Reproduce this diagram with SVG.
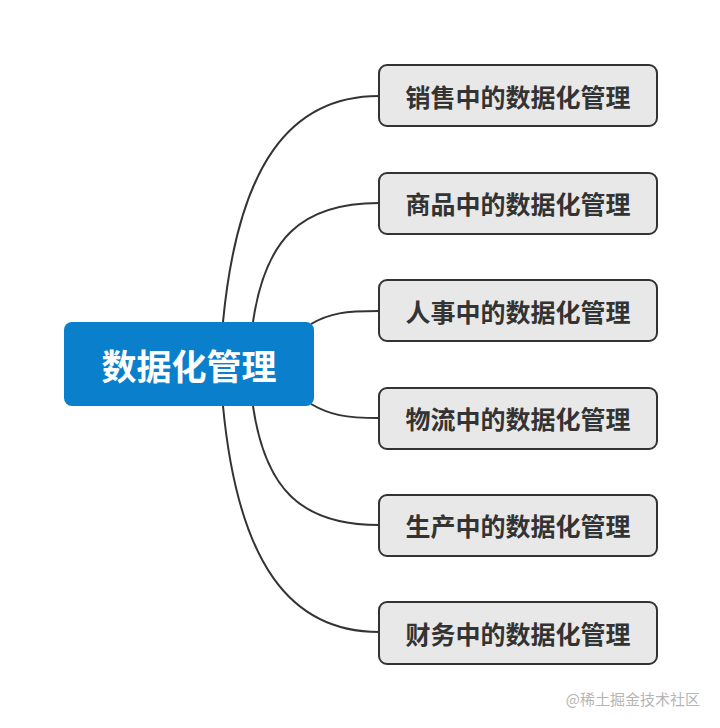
<svg xmlns="http://www.w3.org/2000/svg" width="720" height="728" viewBox="0 0 720 728">
<style>
.conn{fill:none;stroke:#333;stroke-width:2}
.child rect{fill:#e8e8e8;stroke:#333;stroke-width:2}
.child text{font-family:"Noto Sans CJK SC","Noto Sans CJK JP",sans-serif;font-weight:bold;font-size:25px;fill:#333;text-anchor:middle;dominant-baseline:central}
</style>
<rect width="720" height="728" fill="#fff"/>
<g id="connectors">
<path class="conn" d="M223,322 C238,165 290,96 379,96"/>
<path class="conn" d="M253,322 C265,240 300,203 379,203"/>
<path class="conn" d="M311,324 C330,313 345,311 379,311"/>
<path class="conn" d="M311,404 C330,415 345,418 379,418"/>
<path class="conn" d="M253,406 C265,488 300,525 379,525"/>
<path class="conn" d="M223,406 C238,563 290,632 379,632"/>
</g>
<g id="root">
<rect x="64" y="322" width="250" height="84" rx="8" fill="#0a80cc"/>
<text x="189" y="364" font-family="'Noto Sans CJK SC','Noto Sans CJK JP',sans-serif" font-weight="bold" font-size="35" fill="#fff" text-anchor="middle" dominant-baseline="central">数据化管理</text>
</g>
<g id="n1" class="child"><rect x="379" y="65" width="278" height="61" rx="8"/><text x="518" y="96">销售中的数据化管理</text></g>
<g id="n2" class="child"><rect x="379" y="173" width="278" height="61" rx="8"/><text x="518" y="203">商品中的数据化管理</text></g>
<g id="n3" class="child"><rect x="379" y="280" width="278" height="61" rx="8"/><text x="518" y="311">人事中的数据化管理</text></g>
<g id="n4" class="child"><rect x="379" y="388" width="278" height="61" rx="8"/><text x="518" y="418">物流中的数据化管理</text></g>
<g id="n5" class="child"><rect x="379" y="495" width="278" height="61" rx="8"/><text x="518" y="525">生产中的数据化管理</text></g>
<g id="n6" class="child"><rect x="379" y="602" width="278" height="62" rx="8"/><text x="518" y="633">财务中的数据化管理</text></g>
<text x="700" y="698" font-family="'Noto Sans CJK SC',sans-serif" font-size="15" fill="#b5b5b5" text-anchor="end" dominant-baseline="central">@稀土掘金技术社区</text>
</svg>
